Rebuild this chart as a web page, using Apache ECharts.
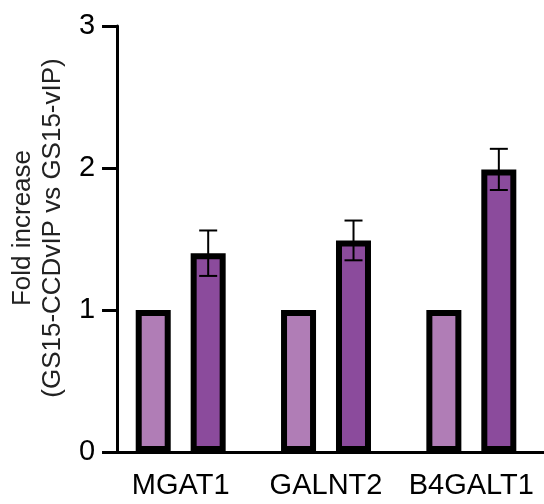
<!DOCTYPE html>
<html>
<head>
<meta charset="utf-8">
<script src="https://cdn.jsdelivr.net/npm/echarts@6/dist/echarts.min.js"></script>
<style>
  html, body { margin: 0; padding: 0; background: #fff; }
  #chart { width: 544px; height: 504px; }
</style>
</head>
<body>
<div id="chart"></div>
<script>
const categories = ['MGAT1', 'GALNT2', 'B4GALT1']
const vipValues = [1, 1, 1]
const ccdValues = [1.40, 1.49, 1.99]
const ccdErrors = [0.16, 0.14, 0.145]
const yTicks = [0, 1, 2, 3]

const font = 'Liberation Sans, Arial, sans-serif'
const barW = 35
const barGapPx = 20
const darkOffset = (barW + barGapPx) / 2

const chart = echarts.init(document.getElementById('chart'))

const option = {
  animation: false,
  grid: { left: 106, right: -6, top: 26, bottom: 52, containLabel: false },
  xAxis: {
    type: 'category',
    data: categories,
    axisLine: { lineStyle: { color: '#000', width: 3 } },
    axisTick: { alignWithLabel: true, length: 15, lineStyle: { color: '#000', width: 3 } },
    axisLabel: { color: '#000', fontSize: 29, fontFamily: font, margin: 19, interval: 0, hideOverlap: false }
  },
  yAxis: {
    type: 'value',
    min: yTicks[0],
    max: yTicks[yTicks.length - 1],
    interval: 1,
    offset: -9,
    splitLine: { show: false },
    axisLine: { show: true, lineStyle: { color: '#000', width: 3 } },
    axisTick: { show: true, length: 15, lineStyle: { color: '#000', width: 3 } },
    axisLabel: { color: '#000', fontSize: 29, fontFamily: font, margin: 22 },
    name: 'Fold increase\n(GS15-CCDvIP vs GS15-vIP)',
    nameLocation: 'middle',
    nameGap: 40,
    nameRotate: 90,
    nameTextStyle: { color: '#222', fontSize: 26, fontFamily: font, lineHeight: 30, padding: [0, 0, 0, 22] }
  },
  series: [
    {
      name: 'GS15-vIP',
      type: 'bar',
      data: vipValues,
      barWidth: barW,
      barGap: Math.round(barGapPx / barW * 100) + '%',
      itemStyle: { color: '#b07db6', borderColor: '#000', borderWidth: 6 }
    },
    {
      name: 'GS15-CCDvIP',
      type: 'bar',
      data: ccdValues,
      barWidth: barW,
      itemStyle: { color: '#8b4b9c', borderColor: '#000', borderWidth: 6 }
    },
    {
      name: 'error',
      type: 'custom',
      z: 10,
      data: ccdValues.map((v, i) => [i, v - ccdErrors[i], v + ccdErrors[i]]),
      renderItem: function (params, api) {
        const lo = api.coord([api.value(0), api.value(1)])
        const hi = api.coord([api.value(0), api.value(2)])
        const x = lo[0] + darkOffset
        const cap = 9
        const style = { stroke: '#000', lineWidth: 2 }
        return {
          type: 'group',
          children: [
            { type: 'line', shape: { x1: x, y1: lo[1], x2: x, y2: hi[1] }, style: style },
            { type: 'line', shape: { x1: x - cap, y1: hi[1], x2: x + cap, y2: hi[1] }, style: style },
            { type: 'line', shape: { x1: x - cap, y1: lo[1], x2: x + cap, y2: lo[1] }, style: style }
          ]
        }
      }
    }
  ]
}

chart.setOption(option)
</script>
</body>
</html>
